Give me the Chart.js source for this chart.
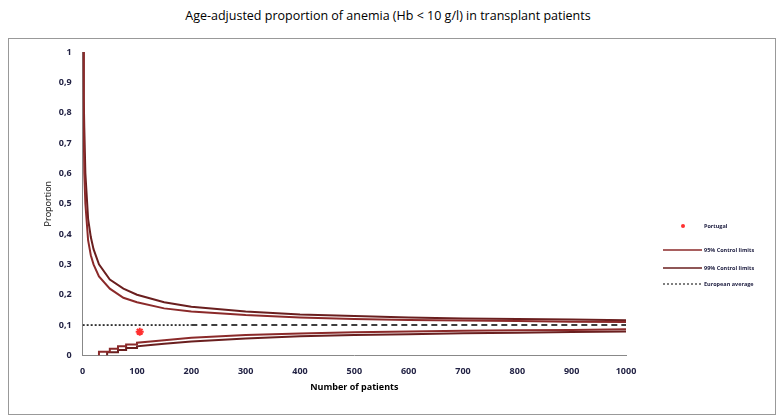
<!DOCTYPE html>
<html><head><meta charset="utf-8">
<script src="https://cdn.jsdelivr.net/npm/chart.js@4/dist/chart.umd.min.js"></script>
<style>body{margin:0;background:#fff}#wrap{position:absolute;left:8px;top:38px;width:766px;height:375px;border:1px solid #999}</style>
</head><body>
<div style="position:absolute;left:0;top:7px;width:776px;text-align:center;font:500 12.5px 'Open Sans',sans-serif;color:#000">Age-adjusted proportion of anemia (Hb &lt; 10 g/l) in transplant patients</div>
<div id="wrap"></div>
<canvas id="c" width="776" height="415" style="position:absolute;left:0;top:0"></canvas>
<script>
const upper99N = [1, 2, 3, 5, 10, 15, 20, 30, 50, 75, 100, 150, 200, 300, 400, 500, 600, 700, 800, 900, 1000];
const upper99P = [1, 0.85, 0.75, 0.6, 0.45, 0.39, 0.35, 0.3, 0.25, 0.22, 0.2, 0.175, 0.16, 0.145, 0.135, 0.13, 0.125, 0.122, 0.12, 0.118, 0.116];
const upper95N = [1, 2, 3, 5, 10, 15, 20, 30, 50, 75, 100, 150, 200, 300, 400, 500, 600, 700, 800, 900, 1000];
const upper95P = [1, 0.75, 0.6, 0.5, 0.38, 0.33, 0.3, 0.26, 0.22, 0.19, 0.175, 0.155, 0.145, 0.133, 0.125, 0.12, 0.117, 0.115, 0.113, 0.111, 0.11];
const lower95N = [30, 30, 50, 50, 65, 65, 80, 80, 100, 100, 125, 150, 200, 300, 400, 500, 600, 700, 800, 900, 1000];
const lower95P = [0, 0.012, 0.012, 0.022, 0.022, 0.03, 0.03, 0.036, 0.036, 0.042, 0.046, 0.05, 0.058, 0.067, 0.072, 0.076, 0.079, 0.081, 0.083, 0.084, 0.086];
const lower99N = [45, 45, 65, 65, 80, 80, 100, 100, 125, 150, 200, 300, 400, 500, 600, 700, 800, 900, 1000];
const lower99P = [0, 0.01, 0.01, 0.018, 0.018, 0.024, 0.024, 0.03, 0.034, 0.038, 0.046, 0.056, 0.063, 0.067, 0.07, 0.073, 0.075, 0.077, 0.079];
const europeanAvg = 0.1;
const portugal = {n: 105, p: 0.078};
const xTicks = [0, 100, 200, 300, 400, 500, 600, 700, 800, 900, 1000];
const legendLabels = ['Portugal', '95% Control limits', '99% Control limits', 'European average'];

const pts = (xs, ys) => xs.map((x, i) => ({x: x, y: ys[i]}));
const lineColor = '#8b2a2a';

const sideLegend = {
  id: 'sideLegend',
  afterDraw(chart) {
    const ctx = chart.ctx;
    const ys = [226, 250, 268, 284];
    ctx.save();
    ctx.font = 'bold 5.5px "Open Sans"';
    ctx.textBaseline = 'middle';
    ctx.fillStyle = '#224';
    ys.forEach((y, i) => ctx.fillText(legendLabels[i], 704, y));
    ctx.fillStyle = '#ff3030';
    ctx.beginPath(); ctx.arc(683, ys[0], 2, 0, Math.PI * 2); ctx.fill();
    ctx.lineWidth = 1.5;
    ctx.strokeStyle = lineColor;
    ctx.beginPath(); ctx.moveTo(663, ys[1]); ctx.lineTo(702, ys[1]); ctx.stroke();
    ctx.strokeStyle = '#6a1f1f';
    ctx.beginPath(); ctx.moveTo(663, ys[2]); ctx.lineTo(702, ys[2]); ctx.stroke();
    ctx.strokeStyle = '#000'; ctx.lineWidth = 1.2; ctx.setLineDash([2, 2]);
    ctx.beginPath(); ctx.moveTo(663, ys[3]); ctx.lineTo(702, ys[3]); ctx.stroke();
    ctx.restore();
  }
};

new Chart(document.getElementById('c'), {
  type: 'scatter',
  data: {
    datasets: [
      {label: 'Portugal', data: [{x: portugal.n, y: portugal.p}], pointStyle: 'star', radius: 4, borderColor: '#ff3030', backgroundColor: '#ff3030', borderWidth: 2, order: 0},
      {label: '95% Control limits', data: pts(upper95N, upper95P), showLine: true, borderColor: lineColor, borderWidth: 2, pointRadius: 0},
      {label: '99% Control limits', data: pts(upper99N, upper99P), showLine: true, borderColor: '#6a1f1f', borderWidth: 2, pointRadius: 0},
      {label: 'European average', data: [{x: 0, y: europeanAvg}, {x: 200, y: europeanAvg}, {x: 1000, y: europeanAvg}], showLine: true, borderColor: '#000', borderWidth: 1.5, borderDash: [2, 2], pointRadius: 0,
        segment: {borderDash: ctx => ctx.p0.parsed.x >= 200 ? [6, 4] : [2, 2]}},
      {label: 'lower95', data: pts(lower95N, lower95P), showLine: true, borderColor: lineColor, borderWidth: 2, pointRadius: 0},
      {label: 'lower99', data: pts(lower99N, lower99P), showLine: true, borderColor: '#6a1f1f', borderWidth: 2, pointRadius: 0}
    ]
  },
  options: {
    responsive: false,
    animation: false,
    layout: {padding: {top: 52, left: 41, right: 150, bottom: 20}},
    plugins: {legend: {display: false}, tooltip: {enabled: false}},
    scales: {
      x: {
        type: 'linear', min: 0, max: 1000,
        afterBuildTicks: axis => { axis.ticks = xTicks.map(v => ({value: v})); },
        grid: {display: false},
        border: {color: '#888'},
        ticks: {callback: v => String(v), font: {size: 9, weight: 'bold', family: 'Open Sans'}, color: '#224'},
        title: {display: true, text: 'Number of patients', font: {size: 9, weight: 'bold', family: 'Open Sans'}, color: '#000', padding: 2}
      },
      y: {
        min: 0, max: 1,
        grid: {display: false},
        border: {color: '#888'},
        ticks: {stepSize: 0.1, callback: v => String(Math.round(v * 10) / 10).replace('.', ','), font: {size: 9, weight: 'bold', family: 'Open Sans'}, color: '#224'},
        title: {display: true, text: 'Proportion', font: {size: 9, family: 'Open Sans'}, color: '#000', padding: 2}
      }
    }
  },
  plugins: [sideLegend]
});
</script>
</body></html>
